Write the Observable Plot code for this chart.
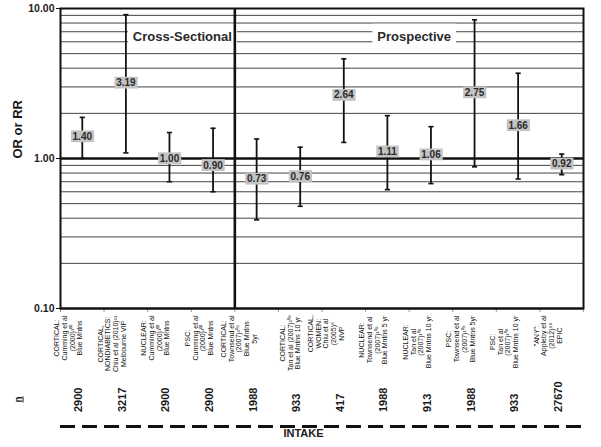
<!DOCTYPE html>
<html><head><meta charset="utf-8">
<script src="https://cdn.jsdelivr.net/npm/d3@7"></script>
<script src="https://cdn.jsdelivr.net/npm/@observablehq/plot@0.6"></script>
<style>body{margin:0;background:#fff}</style>
</head><body><div id="chart"></div>
<script>
// ---- data ----
const studies = [
  "CORTICAL:\nCumming et al\n(2000)¹⁰⁰\nBlue Mntns",
  "CORTICAL,\nNONDIABETICS:\nChiu et al (2010)¹¹\nMelbourne VIP",
  "NUCLEAR:\nCumming et al\n(2000)¹⁰⁰\nBlue Mntns",
  "PSC:\nCumming et al\n(2000)¹⁰⁰\nBlue Mntns",
  "CORTICAL:\nTownsend et al\n(2007)¹⁰⁹\nBlue Mntns\n5yr",
  "CORTICAL:\nTan et al (2007)¹⁰⁸\nBlue Mntns 10 yr",
  "CORTICAL,\nWOMEN:\nChiu et al\n(2005)⁸\nNVP",
  "NUCLEAR:\nTownsend et al\n(2007)¹⁰⁹\nBlue Mntns 5 yr",
  "NUCLEAR:\nTan et al\n(2007)¹⁰⁸\nBlue Mntns 10 yr",
  "PSC:\nTownsend et al\n(2007)¹⁰⁹\nBlue Mntns 5yr",
  "PSC:\nTan et al\n(2007)¹⁰⁸\nBlue Mntns 10 yr",
  "\"ANY\":\nAppleby et al\n(2012)⁹⁸\nEPIC"
];
const designs = ["Cross-Sectional","Cross-Sectional","Cross-Sectional","Cross-Sectional",
  "Prospective","Prospective","Prospective","Prospective","Prospective","Prospective","Prospective","Prospective"];
const estimates = [1.40, 3.19, 1.00, 0.90, 0.73, 0.76, 2.64, 1.11, 1.06, 2.75, 1.66, 0.92];
const lowerCI   = [1.00, 1.09, 0.70, 0.60, 0.39, 0.48, 1.28, 0.62, 0.68, 0.88, 0.73, 0.78];
const upperCI   = [1.88, 9.10, 1.49, 1.59, 1.35, 1.19, 4.62, 1.93, 1.63, 8.40, 3.70, 1.07];
const sampleSizes = [2900, 3217, 2900, 2900, 1988, 933, 417, 1988, 913, 1988, 933, 27670];
const yTicks = [0.1, 1, 10];
const gridValues = [0.2, 0.3, 0.4, 0.5, 0.6, 0.7, 0.8, 0.9, 2, 3, 4, 5, 6, 7, 8, 9];
const sectionNames = ["Cross-Sectional", "Prospective"];
const yTitle = "OR or RR";
const nTitle = "n";
const bottomTitle = "INTAKE";

// ---- table built from the arrays ----
const rows = studies.map((label, i) => ({
  label, design: designs[i], pos: i + 0.5,
  est: estimates[i], lo: lowerCI[i], hi: upperCI[i], n: sampleSizes[i]
}));
const nCross = designs.filter(d => d === sectionNames[0]).length;
const crossSection = [{name: sectionNames[0], x: nCross}];
const prospSection = [{name: sectionNames[1], x: (nCross + studies.length) / 2}];

const capSymbol = {draw(ctx) { ctx.moveTo(-2.6, 0); ctx.lineTo(2.6, 0); }};
const font = "Liberation Sans, Arial, Helvetica, sans-serif";

const chart = Plot.plot({
  width: 601, height: 447,
  marginLeft: 60, marginRight: 18, marginTop: 8, marginBottom: 139,
  style: {fontFamily: font, fontSize: "10px", background: "white", color: "#111", overflow: "visible"},
  x: {type: "linear", domain: [0, studies.length], ticks: d3.range(studies.length + 1), tickFormat: () => "", tickSize: 4, label: null},
  y: {type: "log", domain: [0.1, 10], ticks: yTicks, tickFormat: d => d.toFixed(2), tickSize: 4, tickPadding: 2, label: null},
  marks: [
    Plot.ruleY(gridValues, {stroke: "#444", strokeWidth: 1}),
    Plot.text(crossSection, {x: "x", frameAnchor: "top", dy: 23, dx: -3, textAnchor: "end", text: "name", fontSize: 13, fontWeight: "bold", fill: "#2a2a2a", ariaDescription: "section-label"}),
    Plot.text(prospSection, {x: "x", frameAnchor: "top", dy: 23, dx: 5, textAnchor: "middle", text: "name", fontSize: 13, fontWeight: "bold", fill: "#2a2a2a", ariaDescription: "section-label"}),
    Plot.ruleX([nCross], {strokeWidth: 2.6, stroke: "#111"}),
    Plot.ruleY([1], {strokeWidth: 2.6, stroke: "#111"}),
    Plot.ruleY([0.1], {strokeWidth: 2, stroke: "#111"}),
    Plot.frame({strokeWidth: 2, stroke: "#111"}),
    Plot.ruleX(rows, {x: "pos", y1: "lo", y2: "hi", strokeWidth: 1.8, stroke: "#111"}),
    Plot.dot(rows, {x: "pos", y: "lo", symbol: capSymbol, stroke: "#111", strokeWidth: 1.6, fill: "none"}),
    Plot.dot(rows, {x: "pos", y: "hi", symbol: capSymbol, stroke: "#111", strokeWidth: 1.6, fill: "none"}),
    Plot.text(rows, {x: "pos", y: "est", text: d => d.est.toFixed(2), fontSize: 10, fontWeight: "bold", fill: "#2b2b2b", ariaDescription: "value-label"}),
    Plot.text(rows, {x: "pos", frameAnchor: "bottom", dy: 35, rotate: -90, text: "label", fontSize: 7, lineHeight: 1.1, fill: "#111", ariaDescription: "study-label"}),
    Plot.text(rows, {x: "pos", frameAnchor: "bottom", dy: 103.5, rotate: -90, textAnchor: "start", text: d => String(d.n), fontSize: 11, fontWeight: "bold", fill: "#1a1a1a"}),
    Plot.text([nTitle], {frameAnchor: "bottom-left", dx: -39, dy: 94, rotate: -90, text: d => d, fontSize: 10, fontWeight: "bold", fill: "#1a1a1a", ariaDescription: "n-title"}),
    Plot.ruleY([0.1], {dy: 118, strokeWidth: 3, strokeDasharray: "15,7", stroke: "#111"}),
    Plot.text([bottomTitle], {frameAnchor: "bottom", dx: -18.5, dy: 128, text: d => d, fontSize: 11, fontWeight: "bold", fill: "#1a1a1a"}),
    Plot.text([yTitle], {frameAnchor: "left", dx: -43, rotate: -90, text: d => d, fontSize: 13, fontWeight: "bold", fill: "#1a1a1a"})
  ]
});
document.getElementById("chart").append(chart);

// boxes behind labels, sized from the rendered text
function boxBehind(desc, fill, px, py) {
  chart.querySelectorAll(`g[aria-description="${desc}"] text`).forEach(t => {
    const b = t.getBBox();
    const r = document.createElementNS("http://www.w3.org/2000/svg", "rect");
    r.setAttribute("x", b.x - px); r.setAttribute("y", b.y - py);
    r.setAttribute("width", b.width + 2 * px); r.setAttribute("height", b.height + 2 * py);
    r.setAttribute("fill", fill); r.setAttribute("stroke", "none");
    const tr = t.getAttribute("transform"); if (tr) r.setAttribute("transform", tr);
    t.parentNode.insertBefore(r, t);
  });
}
boxBehind("section-label", "white", 5, 5);
boxBehind("value-label", "#c3c3c3", 1.6, 0.4);

// align the rotated study labels by their upper end, just below the axis
const svgTop = chart.getBoundingClientRect().top;
const frameBottom = chart.getBoundingClientRect().height - 139;
chart.querySelectorAll('g[aria-description="study-label"] text').forEach(t => {
  const top = t.getBoundingClientRect().top - svgTop;
  const shift = (frameBottom + 7) - top;
  t.setAttribute("transform", `translate(0,${shift}) ` + (t.getAttribute("transform") || ""));
});

d3.select(chart).selectAll('g[aria-label^="y-axis"] text')
  .attr("font-weight", "bold").attr("font-size", "10.5px").attr("fill", "#222");
d3.select(chart).selectAll('g[aria-label^="x-axis"]').attr("stroke", "#999");
d3.select(chart).selectAll('g[aria-description="n-title"] text').style("text-decoration", "underline");
</script>
</body></html>
